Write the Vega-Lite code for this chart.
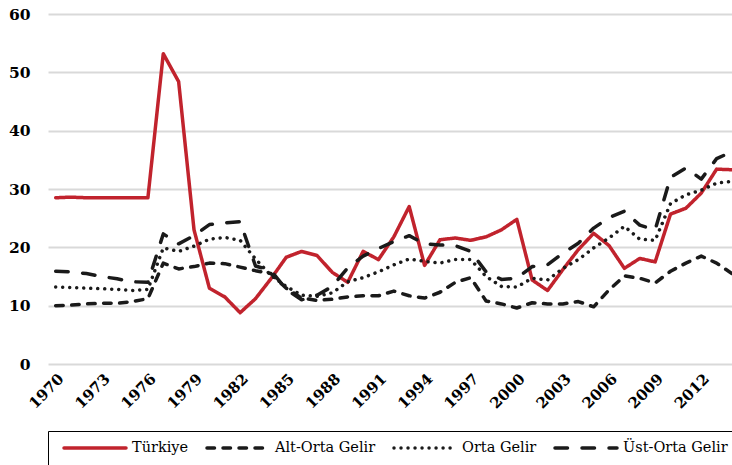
{
  "$schema": "https://vega.github.io/schema/vega-lite/v6.json",
  "width": 684,
  "height": 350,
  "autosize": {"type": "none"},
  "padding": {"left": 48, "top": 14, "right": 0, "bottom": 101},
  "background": "white",
  "config": {"view": {"stroke": null}, "font": "DejaVu Serif", "legend": {"labelFont": "DejaVu Serif"}},
  "data": {"values": [
    {"year":1970,"s":"Türkiye","v":28.5},{"year":1971,"s":"Türkiye","v":28.6},{"year":1972,"s":"Türkiye","v":28.5},{"year":1973,"s":"Türkiye","v":28.5},{"year":1974,"s":"Türkiye","v":28.5},{"year":1975,"s":"Türkiye","v":28.5},{"year":1976,"s":"Türkiye","v":28.5},{"year":1977,"s":"Türkiye","v":53.2},{"year":1978,"s":"Türkiye","v":48.4},{"year":1979,"s":"Türkiye","v":23.0},{"year":1980,"s":"Türkiye","v":13.0},{"year":1981,"s":"Türkiye","v":11.5},{"year":1982,"s":"Türkiye","v":8.8},{"year":1983,"s":"Türkiye","v":11.2},{"year":1984,"s":"Türkiye","v":14.6},{"year":1985,"s":"Türkiye","v":18.3},{"year":1986,"s":"Türkiye","v":19.3},{"year":1987,"s":"Türkiye","v":18.6},{"year":1988,"s":"Türkiye","v":15.7},{"year":1989,"s":"Türkiye","v":14.0},{"year":1990,"s":"Türkiye","v":19.3},{"year":1991,"s":"Türkiye","v":17.9},{"year":1992,"s":"Türkiye","v":21.8},{"year":1993,"s":"Türkiye","v":27.0},{"year":1994,"s":"Türkiye","v":16.9},{"year":1995,"s":"Türkiye","v":21.3},{"year":1996,"s":"Türkiye","v":21.6},{"year":1997,"s":"Türkiye","v":21.2},{"year":1998,"s":"Türkiye","v":21.8},{"year":1999,"s":"Türkiye","v":23.0},{"year":2000,"s":"Türkiye","v":24.8},{"year":2001,"s":"Türkiye","v":14.4},{"year":2002,"s":"Türkiye","v":12.6},{"year":2003,"s":"Türkiye","v":16.2},{"year":2004,"s":"Türkiye","v":19.6},{"year":2005,"s":"Türkiye","v":22.4},{"year":2006,"s":"Türkiye","v":20.3},{"year":2007,"s":"Türkiye","v":16.4},{"year":2008,"s":"Türkiye","v":18.1},{"year":2009,"s":"Türkiye","v":17.5},{"year":2010,"s":"Türkiye","v":25.7},{"year":2011,"s":"Türkiye","v":26.7},{"year":2012,"s":"Türkiye","v":29.3},{"year":2013,"s":"Türkiye","v":33.4},{"year":2014,"s":"Türkiye","v":33.3},
    {"year":1970,"s":"Alt-Orta Gelir","v":10.0},{"year":1971,"s":"Alt-Orta Gelir","v":10.1},{"year":1972,"s":"Alt-Orta Gelir","v":10.3},{"year":1973,"s":"Alt-Orta Gelir","v":10.4},{"year":1974,"s":"Alt-Orta Gelir","v":10.4},{"year":1975,"s":"Alt-Orta Gelir","v":10.7},{"year":1976,"s":"Alt-Orta Gelir","v":11.2},{"year":1977,"s":"Alt-Orta Gelir","v":17.3},{"year":1978,"s":"Alt-Orta Gelir","v":16.3},{"year":1979,"s":"Alt-Orta Gelir","v":16.7},{"year":1980,"s":"Alt-Orta Gelir","v":17.3},{"year":1981,"s":"Alt-Orta Gelir","v":17.2},{"year":1982,"s":"Alt-Orta Gelir","v":16.6},{"year":1983,"s":"Alt-Orta Gelir","v":16.0},{"year":1984,"s":"Alt-Orta Gelir","v":15.5},{"year":1985,"s":"Alt-Orta Gelir","v":13.0},{"year":1986,"s":"Alt-Orta Gelir","v":11.3},{"year":1987,"s":"Alt-Orta Gelir","v":10.9},{"year":1988,"s":"Alt-Orta Gelir","v":11.1},{"year":1989,"s":"Alt-Orta Gelir","v":11.5},{"year":1990,"s":"Alt-Orta Gelir","v":11.7},{"year":1991,"s":"Alt-Orta Gelir","v":11.7},{"year":1992,"s":"Alt-Orta Gelir","v":12.5},{"year":1993,"s":"Alt-Orta Gelir","v":11.7},{"year":1994,"s":"Alt-Orta Gelir","v":11.3},{"year":1995,"s":"Alt-Orta Gelir","v":12.3},{"year":1996,"s":"Alt-Orta Gelir","v":14.0},{"year":1997,"s":"Alt-Orta Gelir","v":14.8},{"year":1998,"s":"Alt-Orta Gelir","v":10.8},{"year":1999,"s":"Alt-Orta Gelir","v":10.3},{"year":2000,"s":"Alt-Orta Gelir","v":9.6},{"year":2001,"s":"Alt-Orta Gelir","v":10.5},{"year":2002,"s":"Alt-Orta Gelir","v":10.3},{"year":2003,"s":"Alt-Orta Gelir","v":10.3},{"year":2004,"s":"Alt-Orta Gelir","v":10.7},{"year":2005,"s":"Alt-Orta Gelir","v":9.8},{"year":2006,"s":"Alt-Orta Gelir","v":12.7},{"year":2007,"s":"Alt-Orta Gelir","v":15.1},{"year":2008,"s":"Alt-Orta Gelir","v":14.7},{"year":2009,"s":"Alt-Orta Gelir","v":13.9},{"year":2010,"s":"Alt-Orta Gelir","v":15.9},{"year":2011,"s":"Alt-Orta Gelir","v":17.3},{"year":2012,"s":"Alt-Orta Gelir","v":18.5},{"year":2013,"s":"Alt-Orta Gelir","v":17.3},{"year":2014,"s":"Alt-Orta Gelir","v":15.5},
    {"year":1970,"s":"Orta Gelir","v":13.2},{"year":1971,"s":"Orta Gelir","v":13.1},{"year":1972,"s":"Orta Gelir","v":13.0},{"year":1973,"s":"Orta Gelir","v":12.9},{"year":1974,"s":"Orta Gelir","v":12.8},{"year":1975,"s":"Orta Gelir","v":12.6},{"year":1976,"s":"Orta Gelir","v":12.8},{"year":1977,"s":"Orta Gelir","v":19.9},{"year":1978,"s":"Orta Gelir","v":19.3},{"year":1979,"s":"Orta Gelir","v":20.2},{"year":1980,"s":"Orta Gelir","v":21.4},{"year":1981,"s":"Orta Gelir","v":21.7},{"year":1982,"s":"Orta Gelir","v":21.2},{"year":1983,"s":"Orta Gelir","v":18.0},{"year":1984,"s":"Orta Gelir","v":15.2},{"year":1985,"s":"Orta Gelir","v":13.3},{"year":1986,"s":"Orta Gelir","v":11.8},{"year":1987,"s":"Orta Gelir","v":11.6},{"year":1988,"s":"Orta Gelir","v":12.2},{"year":1989,"s":"Orta Gelir","v":14.1},{"year":1990,"s":"Orta Gelir","v":14.8},{"year":1991,"s":"Orta Gelir","v":15.8},{"year":1992,"s":"Orta Gelir","v":17.0},{"year":1993,"s":"Orta Gelir","v":18.0},{"year":1994,"s":"Orta Gelir","v":17.6},{"year":1995,"s":"Orta Gelir","v":17.3},{"year":1996,"s":"Orta Gelir","v":17.9},{"year":1997,"s":"Orta Gelir","v":17.9},{"year":1998,"s":"Orta Gelir","v":15.0},{"year":1999,"s":"Orta Gelir","v":13.3},{"year":2000,"s":"Orta Gelir","v":13.2},{"year":2001,"s":"Orta Gelir","v":14.7},{"year":2002,"s":"Orta Gelir","v":14.4},{"year":2003,"s":"Orta Gelir","v":16.4},{"year":2004,"s":"Orta Gelir","v":17.9},{"year":2005,"s":"Orta Gelir","v":19.9},{"year":2006,"s":"Orta Gelir","v":21.6},{"year":2007,"s":"Orta Gelir","v":23.6},{"year":2008,"s":"Orta Gelir","v":21.4},{"year":2009,"s":"Orta Gelir","v":21.2},{"year":2010,"s":"Orta Gelir","v":27.5},{"year":2011,"s":"Orta Gelir","v":29.0},{"year":2012,"s":"Orta Gelir","v":29.8},{"year":2013,"s":"Orta Gelir","v":31.0},{"year":2014,"s":"Orta Gelir","v":31.3},
    {"year":1970,"s":"Üst-Orta Gelir","v":15.9},{"year":1971,"s":"Üst-Orta Gelir","v":15.8},{"year":1972,"s":"Üst-Orta Gelir","v":15.5},{"year":1973,"s":"Üst-Orta Gelir","v":15.0},{"year":1974,"s":"Üst-Orta Gelir","v":14.6},{"year":1975,"s":"Üst-Orta Gelir","v":14.1},{"year":1976,"s":"Üst-Orta Gelir","v":14.0},{"year":1977,"s":"Üst-Orta Gelir","v":22.3},{"year":1978,"s":"Üst-Orta Gelir","v":20.6},{"year":1979,"s":"Üst-Orta Gelir","v":22.0},{"year":1980,"s":"Üst-Orta Gelir","v":23.9},{"year":1981,"s":"Üst-Orta Gelir","v":24.2},{"year":1982,"s":"Üst-Orta Gelir","v":24.4},{"year":1983,"s":"Üst-Orta Gelir","v":16.8},{"year":1984,"s":"Üst-Orta Gelir","v":16.0},{"year":1985,"s":"Üst-Orta Gelir","v":12.8},{"year":1986,"s":"Üst-Orta Gelir","v":11.0},{"year":1987,"s":"Üst-Orta Gelir","v":11.8},{"year":1988,"s":"Üst-Orta Gelir","v":13.3},{"year":1989,"s":"Üst-Orta Gelir","v":16.5},{"year":1990,"s":"Üst-Orta Gelir","v":18.5},{"year":1991,"s":"Üst-Orta Gelir","v":19.8},{"year":1992,"s":"Üst-Orta Gelir","v":21.0},{"year":1993,"s":"Üst-Orta Gelir","v":22.0},{"year":1994,"s":"Üst-Orta Gelir","v":20.6},{"year":1995,"s":"Üst-Orta Gelir","v":20.4},{"year":1996,"s":"Üst-Orta Gelir","v":20.3},{"year":1997,"s":"Üst-Orta Gelir","v":19.3},{"year":1998,"s":"Üst-Orta Gelir","v":15.8},{"year":1999,"s":"Üst-Orta Gelir","v":14.5},{"year":2000,"s":"Üst-Orta Gelir","v":14.7},{"year":2001,"s":"Üst-Orta Gelir","v":16.7},{"year":2002,"s":"Üst-Orta Gelir","v":17.0},{"year":2003,"s":"Üst-Orta Gelir","v":19.0},{"year":2004,"s":"Üst-Orta Gelir","v":20.7},{"year":2005,"s":"Üst-Orta Gelir","v":23.3},{"year":2006,"s":"Üst-Orta Gelir","v":25.1},{"year":2007,"s":"Üst-Orta Gelir","v":26.2},{"year":2008,"s":"Üst-Orta Gelir","v":23.8},{"year":2009,"s":"Üst-Orta Gelir","v":23.0},{"year":2010,"s":"Üst-Orta Gelir","v":32.0},{"year":2011,"s":"Üst-Orta Gelir","v":33.6},{"year":2012,"s":"Üst-Orta Gelir","v":31.7},{"year":2013,"s":"Üst-Orta Gelir","v":35.2},{"year":2014,"s":"Üst-Orta Gelir","v":36.4}
  ]},
  "mark": {"type": "line", "strokeWidth": 3.5, "strokeCap": "round", "strokeJoin": "round"},
  "encoding": {
    "x": {
      "field": "year", "type": "quantitative",
      "scale": {"domain": [1969.5, 2014], "nice": false, "zero": false},
      "axis": {
        "title": null, "values": [1970,1973,1976,1979,1982,1985,1988,1991,1994,1997,2000,2003,2006,2009,2012],
        "format": "d", "labelAngle": -45, "grid": false, "ticks": false, "domain": false,
        "labelFont": "DejaVu Serif", "labelFontWeight": "bold", "labelFontSize": 15, "labelColor": "#000", "labelPadding": 7
      }
    },
    "y": {
      "field": "v", "type": "quantitative",
      "scale": {"domain": [0, 60], "nice": false},
      "axis": {
        "title": null, "values": [0,10,20,30,40,50,60], "grid": true, "gridColor": "#d9d9d9", "gridWidth": 2,
        "ticks": false, "domain": false, "labelPadding": 18,
        "labelFont": "DejaVu Serif", "labelFontWeight": "bold", "labelFontSize": 15.5, "labelColor": "#000"
      }
    },
    "color": {
      "field": "s", "type": "nominal",
      "scale": {"domain": ["Türkiye","Alt-Orta Gelir","Orta Gelir","Üst-Orta Gelir"], "range": ["#C1232D","#1a1a1a","#1a1a1a","#1a1a1a"]},
      "legend": {
        "title": null, "orient": "none", "legendX": 0, "legendY": 417, "direction": "horizontal", "columns": 4,
        "symbolType": "stroke", "symbolSize": 3844, "symbolStrokeWidth": 3.5, "clipHeight": 18,
        "labelFont": "DejaVu Serif", "labelFontSize": 14.5, "labelColor": "#000", "labelOffset": 4,
        "columnPadding": 10, "padding": 8, "strokeColor": "#000", "symbolOffset": 6,
        "encode": {"symbols": {"update": {"strokeCap": {"value": "round"}}}, "labels": {"update": {"font": {"value": "DejaVu Serif"}}}}
      }
    },
    "strokeDash": {
      "field": "s", "type": "nominal",
      "scale": {"domain": ["Türkiye","Alt-Orta Gelir","Orta Gelir","Üst-Orta Gelir"], "range": [[1,0],[7.5,8.5],[0.01,7],[12.5,14.5]]},
      "legend": {
        "title": null, "orient": "none", "legendX": 0, "legendY": 417, "direction": "horizontal", "columns": 4,
        "symbolType": "stroke", "symbolSize": 3844, "symbolStrokeWidth": 3.5, "clipHeight": 18,
        "labelFont": "DejaVu Serif", "labelFontSize": 14.5, "labelColor": "#000", "labelOffset": 4,
        "columnPadding": 10, "padding": 8, "strokeColor": "#000", "symbolOffset": 6,
        "encode": {"symbols": {"update": {"strokeCap": {"value": "round"}}}, "labels": {"update": {"font": {"value": "DejaVu Serif"}}}}
      }
    }
  }
}
